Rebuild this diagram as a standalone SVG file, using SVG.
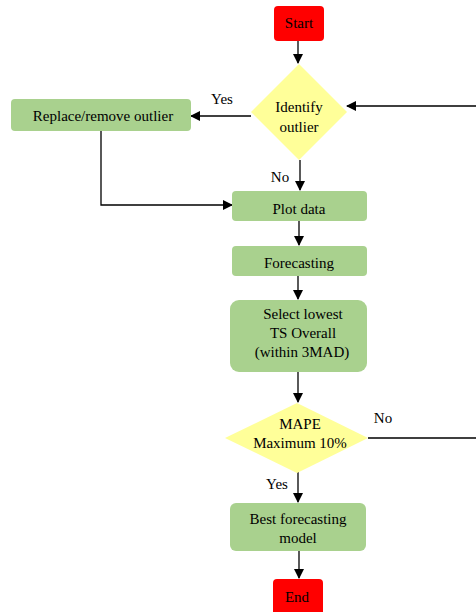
<svg xmlns="http://www.w3.org/2000/svg" width="476" height="612" viewBox="0 0 476 612">
<defs>
<marker id="ah" markerWidth="10" markerHeight="10" refX="9" refY="5" orient="auto" markerUnits="userSpaceOnUse">
<path d="M0,0 L10,5 L0,10 Z" fill="#000"/>
</marker>
<style>
.t{font-family:"Liberation Serif","Times New Roman",serif;font-size:15px;fill:#000;text-anchor:middle}
.g{fill:#A9D18E}
.r{fill:#FF0000}
.y{fill:#FFFF99}
.c{fill:none;stroke:#000;stroke-width:1.3}
</style>
</defs>
<rect width="476" height="612" fill="#fff"/>
<g id="connectors">
<path class="c" d="M298,41 V63" marker-end="url(#ah)"/>
<path class="c" d="M251,116 H191" marker-end="url(#ah)"/>
<path class="c" d="M101,131 V205 H232" marker-end="url(#ah)"/>
<path class="c" d="M300,160 V190" marker-end="url(#ah)"/>
<path class="c" d="M299,221 V245" marker-end="url(#ah)"/>
<path class="c" d="M298,276 V299" marker-end="url(#ah)"/>
<path class="c" d="M298,372 V402" marker-end="url(#ah)"/>
<path class="c" d="M298,472 V502" marker-end="url(#ah)"/>
<path class="c" d="M299,551 V578" marker-end="url(#ah)"/>
<path class="c" d="M368,438 H490 V106 H347" marker-end="url(#ah)"/>
<text class="t" x="222" y="104">Yes</text>
<text class="t" x="280" y="182">No</text>
<text class="t" x="383" y="423">No</text>
<text class="t" x="277" y="489">Yes</text>
</g>
<g id="start">
<rect class="r" x="274" y="6" width="50" height="35" rx="4"/>
<text class="t" x="299" y="28">Start</text>
</g>
<g id="identify">
<polygon class="y" points="299,64 347,112 299,160 251,112"/>
<text class="t" x="299" y="112">Identify</text>
<text class="t" x="299" y="132">outlier</text>
</g>
<g id="replace">
<rect class="g" x="11" y="99" width="180" height="32" rx="4"/>
<text class="t" x="103" y="121">Replace/remove outlier</text>
</g>
<g id="plot">
<rect class="g" x="232" y="191" width="135" height="30" rx="4"/>
<text class="t" x="299" y="214">Plot data</text>
</g>
<g id="forecasting">
<rect class="g" x="232" y="246" width="135" height="30" rx="4"/>
<text class="t" x="299" y="268">Forecasting</text>
</g>
<g id="select">
<rect class="g" x="230" y="300" width="137" height="72" rx="9"/>
<text class="t" x="303" y="319">Select lowest</text>
<text class="t" x="303" y="338">TS Overall</text>
<text class="t" x="302" y="357">(within 3MAD)</text>
</g>
<g id="mape">
<polygon class="y" points="297,403 368,438 297,473 225,438"/>
<text class="t" x="300" y="429">MAPE</text>
<text class="t" x="300" y="448">Maximum 10%</text>
</g>
<g id="best">
<rect class="g" x="230" y="503" width="136" height="48" rx="6"/>
<text class="t" x="298" y="524">Best forecasting</text>
<text class="t" x="298" y="543">model</text>
</g>
<g id="end">
<rect class="r" x="273" y="579" width="50" height="40" rx="4"/>
<text class="t" x="297" y="602">End</text>
</g>
</svg>
